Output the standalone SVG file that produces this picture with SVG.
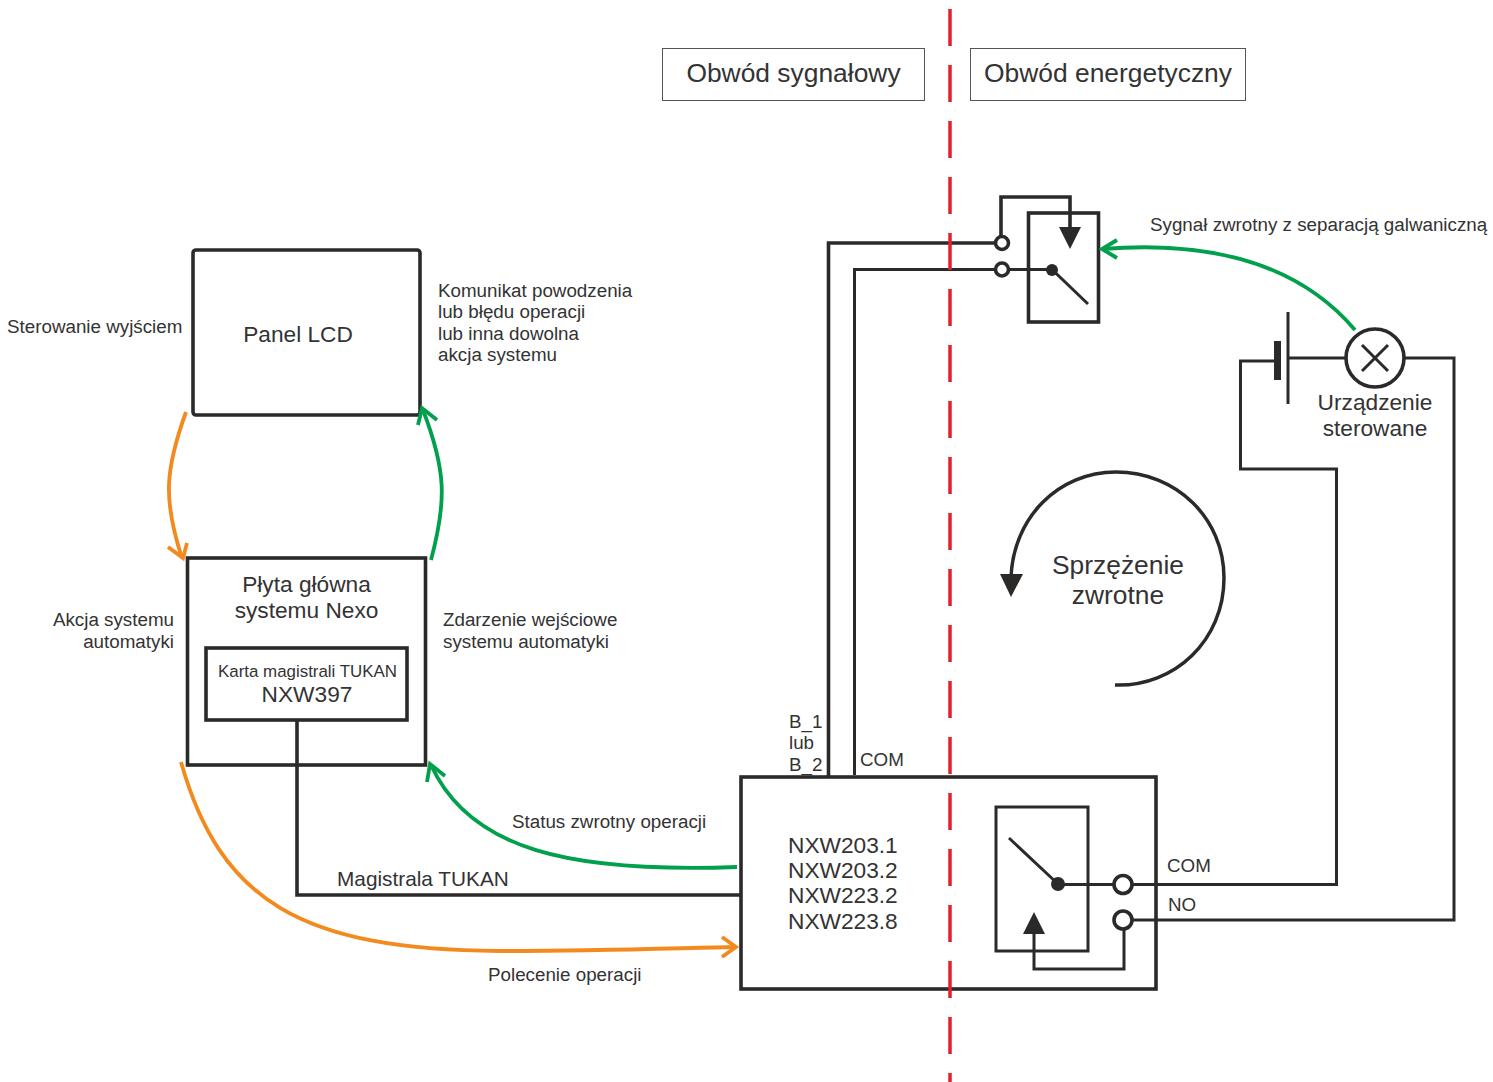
<svg xmlns="http://www.w3.org/2000/svg" width="1493" height="1082" viewBox="0 0 1493 1082">
<style>
text{font-family:"Liberation Sans",Arial,sans-serif;fill:#333}
.s{font-size:18.800px}.m{font-size:22.700px}.l{font-size:26.400px}.c{text-anchor:middle}.e{text-anchor:end}
.b{fill:#fff;stroke:#2b2a29;stroke-width:3.600}
.w{fill:none;stroke:#2b2a29;stroke-width:3.600}
.t{fill:none;stroke:#2b2a29;stroke-width:3}
.o{fill:#fff;stroke:#2b2a29;stroke-width:3.600}
.d{fill:#2b2a29;stroke:none}
.g{fill:none;stroke:#00a04d;stroke-width:3.800}
.r{fill:none;stroke:#f28a1d;stroke-width:3.800}
.f{fill:#fff;stroke:#555;stroke-width:1}
</style>
<rect width="1493" height="1082" fill="#fff"/>
<g id="label-signal"><rect class="f" x="662.500" y="48.500" width="262" height="52"/><text class="l c" x="793.500" y="82">Obwód sygnałowy</text></g>
<g id="label-power"><rect class="f" x="970.500" y="48.500" width="275" height="52"/><text class="l c" x="1108" y="82">Obwód energetyczny</text></g>
<g id="panel-lcd"><rect class="b" x="193" y="250" width="227" height="165" rx="3"/><text class="m c" x="298" y="342">Panel LCD</text></g>
<g id="plyta"><rect class="b" x="187.500" y="558" width="238" height="207"/><text class="m c" x="306.500" y="592">Płyta główna</text><text class="m c" x="306.500" y="618">systemu Nexo</text></g>
<g id="karta"><rect class="b" x="206" y="648" width="201" height="72"/><text class="c" style="font-size:16.900px" x="307.500" y="677">Karta magistrali TUKAN</text><text class="m c" x="307" y="702">NXW397</text></g>
<g id="relay-module"><rect class="b" x="741" y="777" width="415" height="212"/><text class="m" x="788" y="853">NXW203.1</text><text class="m" x="788" y="878">NXW203.2</text><text class="m" x="788" y="903">NXW223.2</text><text class="m" x="788" y="929">NXW223.8</text></g>
<g id="relay-top"><rect class="b" x="1028.500" y="213" width="70" height="109"/></g>
<g id="relay-bottom"><rect class="t" x="996" y="807" width="92" height="144"/></g>
<g id="connectors">
<path class="w" d="M297 720V895H741"/>
<path class="w" d="M828.500 777V243H1002"/>
<path class="t" d="M854.500 775V269.500H1002"/>
<path class="w" d="M1001 243V197H1070V232"/>
<path class="t" d="M1002 269.500H1052L1088 304"/>
<path class="t" d="M1276 361H1240.500V469H1336.500V884.500H1058"/>
<path class="t" d="M1288 358H1346M1405 358H1454V920H1123"/>
<path class="t" d="M1058 884L1009 838"/>
<path class="t" d="M1124 920V969H1034V930"/>
<path d="M1115 685C1175 687 1224 640 1224 578C1224 518 1176 472 1116 472C1058 472 1013 518 1011 578" fill="none" stroke="#2b2a29" stroke-width="3.500"/>
<path class="g" d="M1355 330C1300 265 1215 240 1102 249"/><path class="g" d="M1117 240L1102 249L1117 258"/>
<path class="g" d="M431 560C447 500 446 470 423 410"/><path class="g" d="M418 425L422 408L437 420"/>
<path class="r" d="M186 412C165 470 163 500 182 558"/><path class="r" d="M168 547L183 558L187 543"/>
<path class="g" d="M737 867C570 873 470 850 431 765"/><path class="g" d="M427 782L430 764L445 776"/>
<path class="r" d="M181 762C220 900 300 950 500 951C600 951 680 948 736 947"/><path class="r" d="M722 937L736 947L722 957"/>
</g>
<g id="relay-top-marks"><path class="d" d="M1059 227H1081L1070 249Z"/><circle class="d" cx="1052" cy="270" r="6"/></g>
<g id="terminals-top"><circle class="o" cx="1002" cy="243" r="6.500"/><circle class="o" cx="1002" cy="269.500" r="6.500"/></g>
<g id="relay-bottom-marks"><path class="d" d="M1023 934H1045L1034 912Z"/><circle class="d" cx="1058" cy="884" r="7"/></g>
<g id="terminals-bottom"><circle class="o" cx="1123" cy="884.500" r="9"/><circle class="o" cx="1123" cy="920" r="9"/></g>
<g id="source"><rect class="d" x="1274" y="341" width="7" height="39"/><path class="t" d="M1288 312V404"/></g>
<g id="lamp"><circle class="o" cx="1375" cy="358" r="29"/><path class="t" d="M1362 345L1388 371M1388 345L1362 371"/></g>
<path class="d" d="M1000 574H1023L1011 597Z"/>
<path d="M950 9V1082" stroke="#e5202e" stroke-width="3.500" stroke-dasharray="37 19" fill="none"/>
<g id="labels">
<text class="s" x="7" y="333">Sterowanie wyjściem</text>
<text class="s" x="438" y="297">Komunikat powodzenia</text><text class="s" x="438" y="318">lub błędu operacji</text><text class="s" x="438" y="340">lub inna dowolna</text><text class="s" x="438" y="361">akcja systemu</text>
<text class="s e" x="174" y="626">Akcja systemu</text><text class="s e" x="174" y="648">automatyki</text>
<text class="s" x="443" y="626">Zdarzenie wejściowe</text><text class="s" x="443" y="648">systemu automatyki</text>
<text class="s" x="512" y="828">Status zwrotny operacji</text>
<text class="s" x="488" y="981">Polecenie operacji</text>
<text x="337" y="886" style="font-size:20.800px">Magistrala TUKAN</text>
<text class="s" x="789" y="728">B_1</text><text class="s" x="789" y="749">lub</text><text class="s" x="789" y="771">B_2</text>
<text class="s" x="860" y="766">COM</text>
<text class="s" x="1167" y="872">COM</text><text class="s" x="1168" y="911">NO</text>
<text class="s" x="1150" y="231">Sygnał zwrotny z separacją galwaniczną</text>
<text class="m c" x="1375" y="410">Urządzenie</text><text class="m c" x="1375" y="436">sterowane</text>
<text class="l c" x="1118" y="574">Sprzężenie</text><text class="l c" x="1118" y="604">zwrotne</text>
</g>
</svg>
